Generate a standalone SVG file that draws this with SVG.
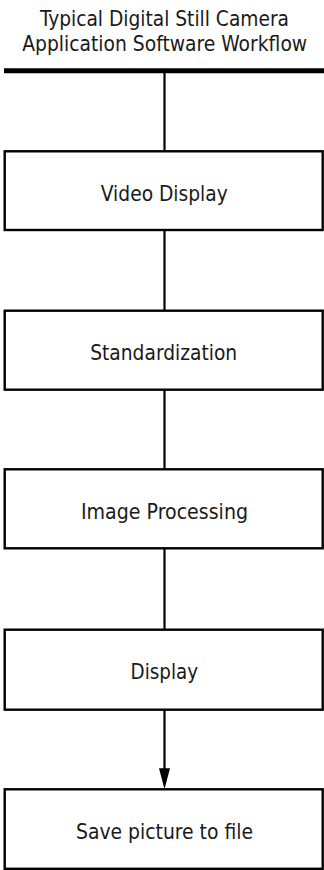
<svg xmlns="http://www.w3.org/2000/svg" width="324" height="870" viewBox="0 0 324 870">
<style>
  .box { fill: #ffffff; stroke: #000000; stroke-width: 2.4; }
  .lbl { font-family: "DejaVu Sans Condensed", "DejaVu Sans", sans-serif; font-stretch: condensed; font-size: 21px; fill: #1a1a1a; text-anchor: middle; }
  .conn { stroke: #000000; stroke-width: 2.2; fill: none; }
</style>
<defs>
  <marker id="arrow" markerUnits="userSpaceOnUse" markerWidth="12" markerHeight="22" refX="11" refY="5.5" orient="auto">
    <path d="M0,0 L11,5.5 L0,11 Z" fill="#000000"/>
  </marker>
</defs>
<rect width="324" height="870" fill="#ffffff"/>
<g id="title">
  <text class="lbl" x="164.5" y="25.5" textLength="249" lengthAdjust="spacingAndGlyphs">Typical Digital Still Camera</text>
  <text class="lbl" x="164.7" y="50.5" textLength="285" lengthAdjust="spacingAndGlyphs">Application Software Workflow</text>
</g>
<g id="connectors">
  <line x1="4" y1="70.7" x2="324" y2="70.7" stroke="#000000" stroke-width="5"/>
  <line class="conn" x1="164.5" y1="70.7" x2="164.5" y2="151"/>
  <line class="conn" x1="164.5" y1="230" x2="164.5" y2="310.7"/>
  <line class="conn" x1="164.5" y1="389.7" x2="164.5" y2="469.3"/>
  <line class="conn" x1="164.5" y1="548.3" x2="164.5" y2="629.7"/>
  <line class="conn" x1="164.5" y1="709.7" x2="164.5" y2="770"/>
  <path d="M159,768.3 L170,768.3 L164.5,789.3 Z" fill="#000000"/>
</g>
<g id="node-video-display">
  <rect class="box" x="4.7" y="151.3" width="318" height="78.7"/>
  <text class="lbl" x="164.3" y="200.5" textLength="127" lengthAdjust="spacingAndGlyphs">Video Display</text>
</g>
<g id="node-standardization">
  <rect class="box" x="4.7" y="310.7" width="318" height="79"/>
  <text class="lbl" x="163.7" y="359.5" textLength="147" lengthAdjust="spacingAndGlyphs">Standardization</text>
</g>
<g id="node-image-processing">
  <rect class="box" x="4.7" y="469.3" width="318" height="79"/>
  <text class="lbl" x="164.5" y="518.7" textLength="167" lengthAdjust="spacingAndGlyphs">Image Processing</text>
</g>
<g id="node-display">
  <rect class="box" x="4.7" y="629.7" width="318" height="80"/>
  <text class="lbl" x="164.3" y="678.5" textLength="67.5" lengthAdjust="spacingAndGlyphs">Display</text>
</g>
<g id="node-save-picture">
  <rect class="box" x="4.7" y="789.3" width="318" height="79.5"/>
  <text class="lbl" x="164.5" y="838.5" textLength="177" lengthAdjust="spacingAndGlyphs">Save picture to file</text>
</g>
</svg>
